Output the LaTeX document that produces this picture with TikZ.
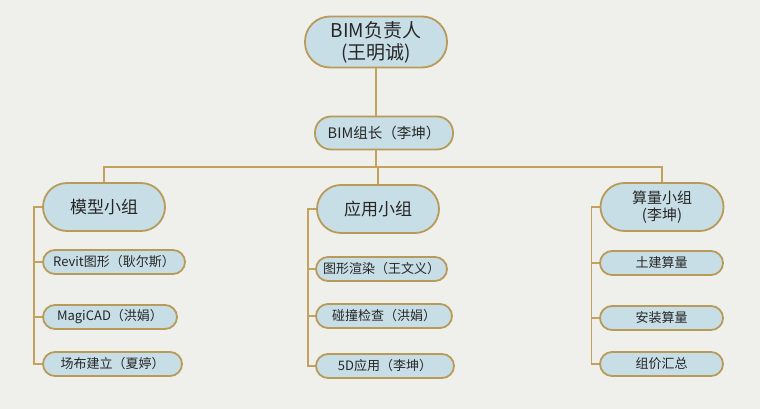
\documentclass[tikz,border=0pt]{standalone}
\usepackage{fontspec}
\setmainfont{Noto Sans CJK SC}
\usepackage{tikz}
\usetikzlibrary{positioning}
\definecolor{boxfill}{HTML}{C8DEE6}
\definecolor{boxline}{HTML}{B89B58}
\definecolor{linkline}{HTML}{C4A25E}
\definecolor{paper}{HTML}{EFEFEC}

\begin{document}
\begin{tikzpicture}[x=1pt,y=-1pt,inner sep=0pt,
	box/.style={draw=boxline,fill=boxfill,line width=1.8pt,align=center,text=black!85},
	head/.style={box,minimum height=51pt,rounded corners=25pt,font=\fontsize{19}{22}\selectfont},
	grp/.style={box,minimum width=122pt,minimum height=48pt,rounded corners=24pt},
	item/.style={box,minimum height=24pt,rounded corners=12pt,font=\fontsize{13}{15}\selectfont},
	link/.style={draw=linkline,line width=1.6pt}]
		\fill [paper] (0,0) rectangle (760,409);
		\useasboundingbox (0,0) rectangle (760,409);
		% top of the tree
		\node [head,minimum width=142pt] (chief) at (376,42) {BIM负责人\\(王明诚)};
		\node [box,minimum width=138pt,minimum height=33pt,rounded corners=16pt,font=\fontsize{14.5}{17}\selectfont] (leader) at (384,133) {BIM组长（李坤）};
		\coordinate (bus) at (376,167);
		% groups
		\node [grp,font=\fontsize{17}{20}\selectfont] (model) at (104,207) {模型小组};
		\node [grp,font=\fontsize{17}{20}\selectfont] (app) at (378,209) {应用小组};
		\node [grp,minimum width=123pt,font=\fontsize{15}{17}\selectfont] (quant) at (662,207) {算量小组\\(李坤)};
		% members
		\node [item,minimum width=142pt] (model1) at (114,262) {Revit图形（耿尔斯）};
		\node [item,minimum width=134pt] (model2) at (110,317) {MagiCAD（洪娟）};
		\node [item,minimum width=139pt] (model3) at (112.5,364) {场布建立（夏婷）};
		\node [item,minimum width=131pt] (app1) at (381.5,269) {图形渲染（王文义）};
		\node [item,minimum width=136pt] (app2) at (384,316) {碰撞检查（洪娟）};
		\node [item,minimum width=138pt] (app3) at (385,366) {5D应用（李坤）};
		\node [item,minimum width=123pt] (quant1) at (661.5,263) {土建算量};
		\node [item,minimum width=123pt] (quant2) at (661.5,318) {安装算量};
		\node [item,minimum width=123pt] (quant3) at (661.5,364) {组价汇总};
		% links
		\draw [link] (chief.south) -- (chief.south |- leader.north);
		\draw [link] (chief.south |- leader.south) -- (bus);
		\foreach \g in {model,app,quant}
			\draw [link] (\g.north) |- (bus);
		\foreach \g in {model,app,quant}
			\foreach \i in {1,2,3}
				\draw [link] (\g.west) -| ++(-8,0) |- (\g\i.west);
	\end{tikzpicture}
\end{document}
